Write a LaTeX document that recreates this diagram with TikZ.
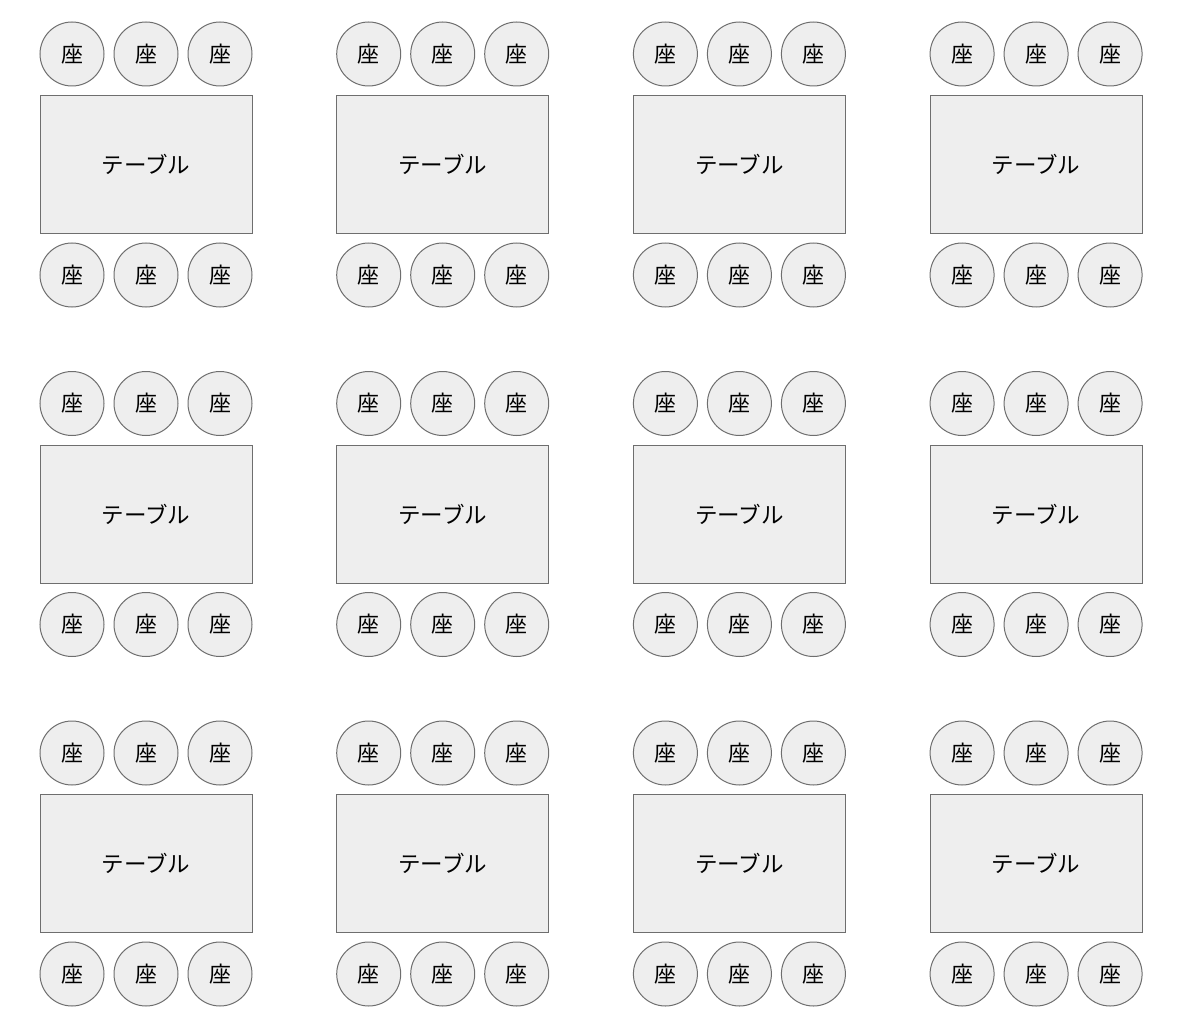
\documentclass[tikz,border=0pt]{standalone}
\usepackage{fontspec}
\setmainfont{Noto Sans CJK JP}
\usetikzlibrary{positioning}
\definecolor{seatfill}{HTML}{EEEEEE}
\definecolor{seatline}{HTML}{6E6E6E}

\begin{document}
\begin{tikzpicture}[x=1pt, y=1pt, node distance=8.5pt and 9pt,
    desk/.style={draw=seatline, fill=seatfill, line width=1pt, minimum width=212pt, minimum height=138pt, inner sep=0pt, font=\fontsize{22.5}{26}\selectfont},
    seat/.style={draw=seatline, fill=seatfill, line width=1pt, circle, minimum size=64pt, inner sep=0pt, font=\fontsize{22}{26}\selectfont}]
    \useasboundingbox (0,0) rectangle (1200,-1030);
    \foreach \r in {0,1,2} {
      \foreach \c in {0,1,2,3} {
        \node[desk] (t\r\c) at ({146+296.7*\c}, {-164.5-349.5*\r}) {テーブル};
        % seats above
        \node[seat, above=of t\r\c] (u\r\c) {座};
        \node[seat, left=of u\r\c] (ul\r\c) {座};
        \node[seat, right=of u\r\c] (ur\r\c) {座};
        % seats below
        \node[seat, below=of t\r\c] (d\r\c) {座};
        \node[seat, left=of d\r\c] (dl\r\c) {座};
        \node[seat, right=of d\r\c] (dr\r\c) {座};
      }
    }
\end{tikzpicture}
\end{document}
